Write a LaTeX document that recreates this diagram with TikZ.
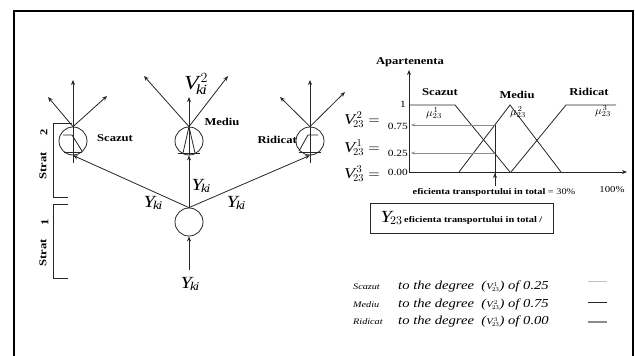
\RequirePackage{fix-cm}
\documentclass[tikz,border=0pt]{standalone}
\usepackage{fontspec}
\setmainfont{Liberation Serif}[FakeStretch=1.2]
\usetikzlibrary{arrows.meta}
\newcommand{\Vv}[2]{\mathit{V}^{\kern0.22em #1}_{#2}}
\begin{document}
\begin{tikzpicture}[x=1pt,y=-1pt,
  ln/.style={line width=0.8pt, draw=black!85},
  arr/.style={ln, -{Stealth[length=5pt,width=4pt]}},
  garr/.style={line width=0.7pt, draw=black!45, -{Stealth[length=4pt,width=3pt]}},
  neuron/.style={circle, draw=black!85, line width=0.8pt, minimum size=28pt, inner sep=0pt},
  blbl/.style={font=\fontsize{10.5}{12}\selectfont\bfseries, inner sep=0pt},
  ylbl/.style={font=\fontsize{17}{20}\selectfont, inner sep=0pt},
  vlbl/.style={font=\fontsize{15}{18}\selectfont, inner sep=0pt, anchor=east},
  tick/.style={font=\fontsize{9.5}{11}\selectfont, inner sep=0pt, anchor=east},
  mulbl/.style={font=\fontsize{11}{12}\selectfont, inner sep=0pt},
  smallb/.style={font=\fontsize{8.6}{10}\selectfont\bfseries, inner sep=0pt},
  legname/.style={font=\fontsize{8.5}{10}\selectfont\itshape, inner sep=0pt, anchor=west},
  legtext/.style={font=\fontsize{12.2}{14}\selectfont\itshape, inner sep=0pt, anchor=west},
  strat/.style={font=\fontsize{10.5}{12}\selectfont\bfseries, inner sep=0pt, rotate=90}
]
\clip (0,0) rectangle (635,356);
\fill[white] (0,0) rectangle (635,356);
\draw[line width=2.5pt] (14,11) rectangle (633,372);

% ---------- left network ----------
\node[neuron] (s) at (73,141) {};
\node[neuron] (m) at (189,141) {};
\node[neuron] (r) at (310,141) {};
\node[neuron] (b) at (189,222) {};

\coordinate (sbot) at (73,163);
\coordinate (rbot) at (310,163);
\coordinate (stop) at (73,80);
\coordinate (sl) at (48,97);
\coordinate (sr) at (107,96);
\coordinate (mtop) at (189,97);
\coordinate (ml) at (144,76);
\coordinate (mr) at (228,76);
\coordinate (rtop) at (310,80);
\coordinate (rl) at (280,97);
\coordinate (rr) at (345,92);
\coordinate (bin) at (189,270);

\draw[arr] (sbot) -- (stop);
\draw[arr] (s.north) -- (sl);
\draw[arr] (s.north) -- (sr);
\draw[arr] (m.north) -- (mtop);
\draw[ln] (m.south) -- (m.north);
\draw[arr] (m.north) -- (ml);
\draw[arr] (m.north) -- (mr);
\draw[arr] (rbot) -- (rtop);
\draw[arr] (r.north) -- (rl);
\draw[arr] (r.north) -- (rr);

% chords and membership glyphs
\draw[ln] (64,152) -- (82,152);
\draw[ln] (63,135) -- (72,135) -- (82,151);
\draw[ln] (178,153) -- (200,153);
\draw[ln] (183,153) -- (m.north) -- (195,153);
\draw[ln] (299,152) -- (321,152);
\draw[ln] (299,151) -- (308,135) -- (318,135);

% inputs
\draw[arr] (b.north) -- (s.south);
\draw[arr] (b.north) -- (m.south);
\draw[arr] (b.north) -- (r.south);
\draw[arr] (bin) -- (b.south);

% labels
\node[blbl] (ls) at (115,138) {Scazut};
\node[blbl] (lm) at (222,122) {Mediu};
\node[blbl, anchor=east] (lr) at (297,140) {Ridicat};
\node[font=\fontsize{20}{24}\selectfont, inner sep=0pt] (vk) at (196,84) {$\Vv{2}{\mathit{ki}}$};
\node[ylbl] (y1) at (153,203) {$\mathit{Y}_{\mathit{ki}}$};
\node[ylbl] (y2) at (201,186) {$\mathit{Y}_{\mathit{ki}}$};
\node[ylbl] (y3) at (236,203) {$\mathit{Y}_{\mathit{ki}}$};
\node[ylbl] (y4) at (190,284) {$\mathit{Y}_{\mathit{ki}}$};

% strata brackets
\draw[ln] (72,123) -- (53,123) -- (53,197) -- (68,197);
\draw[ln] (68,204) -- (53,204) -- (53,278) -- (68,278);
\node[strat] (st2) at (43,166) {Strat};
\node[strat] (n2) at (44,132) {2};
\node[strat] (st1) at (43,253) {Strat};
\node[strat] (n1) at (45,222) {1};

% ---------- right chart ----------
\coordinate (o) at (409,172);
\coordinate (ytop) at (409,70);
\coordinate (xend) at (627,172);
\draw[arr] (o) -- (ytop);
\draw[arr] (o) -- (xend);

\draw[ln] (409,105) -- (455,105) -- (510,172);
\draw[ln] (459,172) -- (510,105) -- (561,172);
\draw[ln] (511,172) -- (566,105) -- (616,105);

\draw[ln] (495,125) -- (495,186);
\draw[arr] (495,186) -- (495,173);
\draw[garr] (495,125) -- (411,125);
\draw[garr] (495,153) -- (411,153);

\node[blbl] (ap) at (410,62) {Apartenenta};
\node[blbl] (cs) at (440,92) {Scazut};
\node[blbl] (cm) at (517,95) {Mediu};
\node[blbl] (cr) at (589,92) {Ridicat};
\node[mulbl] (mu1) at (434,113) {$\mu^{\kern1pt 1}_{23}$};
\node[mulbl] (mu2) at (518,112) {$\mu^{\kern1pt 2}_{23}$};
\node[mulbl] (mu3) at (603,111) {$\mu^{\kern1pt 3}_{23}$};

\node[tick] (t1) at (406,104) {1};
\node[tick] (t75) at (408,126) {0.75};
\node[tick] (t25) at (408,153) {0.25};
\node[tick] (t0) at (408,172) {0.00};
\node[vlbl] (v2) at (380,120) {$\Vv{2}{23} =$};
\node[vlbl] (v1) at (380,148) {$\Vv{1}{23} =$};
\node[vlbl] (v3) at (380,174) {$\Vv{3}{23} =$};

\node[smallb] (ef) at (494,192) {eficienta transportului in total \textmd{= 30\%}};
\node[font=\fontsize{9}{10}\selectfont, inner sep=0pt] (hund) at (612,190) {100\%};

\node[draw=black!85, line width=0.8pt, minimum width=183pt, minimum height=30pt, inner sep=2pt] (box) at (461.5,218)
  {{\fontsize{17}{20}\selectfont$\mathit{Y}_{23}$}\,{\fontsize{8.6}{10}\selectfont\bfseries eficienta transportului in total /}};

% ---------- legend ----------
\node[legname] (ln1) at (353,287) {Scazut};
\node[legname] (ln2) at (353,305) {Mediu};
\node[legname] (ln3) at (353,322) {Ridicat};
\node[legtext] (lt1) at (398,287) {to the degree \ ({\fontsize{9}{10}\selectfont$\Vv{1}{23}$}) of 0.25};
\node[legtext] (lt2) at (398,305) {to the degree \ ({\fontsize{9}{10}\selectfont$\Vv{2}{23}$}) of 0.75};
\node[legtext] (lt3) at (398,322) {to the degree \ ({\fontsize{9}{10}\selectfont$\Vv{3}{23}$}) of 0.00};
\draw[line width=1pt, black!25] (588,281) -- (607,281);
\draw[line width=0.8pt, black!85] (588,302) -- (607,302);
\draw[line width=1.4pt, black!45] (588,322) -- (607,322);
\end{tikzpicture}
\end{document}
